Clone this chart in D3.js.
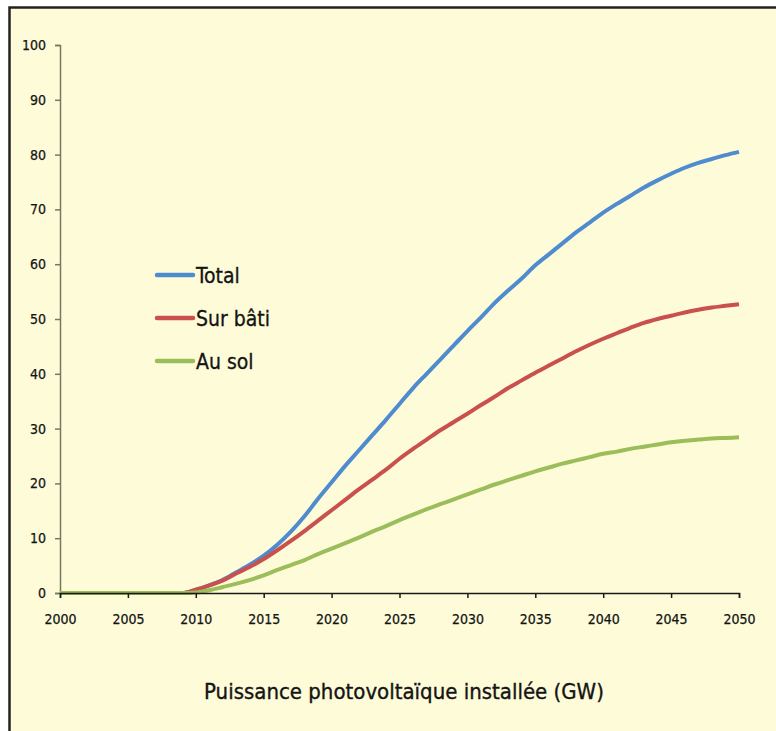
<!DOCTYPE html>
<html>
<head>
<meta charset="utf-8">
<script src="https://cdn.jsdelivr.net/npm/d3@7/dist/d3.min.js"></script>
<style>
  html, body { margin: 0; padding: 0; background: #fff; }
  svg { display: block; }
  text { font-family: "DejaVu Sans Condensed", "DejaVu Sans", sans-serif; fill: #141414; }
</style>
</head>
<body>
<svg id="chart" width="776" height="731"></svg>
<script>
// Installed photovoltaic capacity (GW), yearly, 2000–2050
const years = d3.range(2000, 2051);
const totalValues = [
  0, 0, 0, 0, 0, 0, 0, 0, 0, 0,
  0.6, 1.4, 2.4, 3.8, 5.2, 6.8, 8.8, 11.2, 14.0, 17.2,
  20.2, 23.2, 26.0, 28.8, 31.6, 34.5, 37.4, 40.0, 42.6, 45.2,
  47.8, 50.3, 52.9, 55.2, 57.4, 59.8, 61.8, 63.8, 65.8, 67.6,
  69.4, 71.0, 72.5, 74.0, 75.3, 76.5, 77.6, 78.5, 79.2, 79.9,
  80.5
];
const batiValues = [
  0, 0, 0, 0, 0, 0, 0, 0, 0, 0,
  0.6, 1.4, 2.3, 3.6, 4.8, 6.2, 7.8, 9.5, 11.3, 13.2,
  15.1, 17.0, 18.9, 20.7, 22.5, 24.5, 26.3, 28.0, 29.7, 31.2,
  32.7, 34.3, 35.8, 37.4, 38.8, 40.2, 41.5, 42.8, 44.1, 45.3,
  46.4, 47.4, 48.4, 49.3, 50.0, 50.6, 51.2, 51.7, 52.1, 52.4,
  52.7
];
const solValues = [
  0, 0, 0, 0, 0, 0, 0, 0, 0, 0,
  0.1, 0.5, 1.1, 1.7, 2.4, 3.2, 4.2, 5.1, 6.0, 7.1,
  8.1, 9.1, 10.1, 11.2, 12.2, 13.3, 14.3, 15.3, 16.2, 17.1,
  18.0, 18.9, 19.8, 20.6, 21.4, 22.2, 22.9, 23.6, 24.2, 24.8,
  25.4, 25.8, 26.3, 26.7, 27.1, 27.5, 27.8, 28.0, 28.2, 28.3,
  28.4
];
const seriesNames = ["Total", "Sur bâti", "Au sol"];
const seriesColors = ["#4F8BCF", "#C9504D", "#9BBD5A"];
const xTicks = d3.range(2000, 2051, 5);
const yTicks = d3.range(0, 101, 10);
const xTitle = "Puissance photovoltaïque installée (GW)";

const series = [totalValues, batiValues, solValues].map((vals, i) => ({
  name: seriesNames[i],
  color: seriesColors[i],
  points: years.map((y, j) => ({ year: y, value: vals[j] }))
}));

const svg = d3.select("#chart");

// panel background and frame
svg.append("rect").attr("x", 0).attr("y", 0).attr("width", 776).attr("height", 731).attr("fill", "#ffffff");
svg.append("rect")
  .attr("x", 9.5).attr("y", 7.5).attr("width", 800).attr("height", 800)
  .attr("fill", "#FEFCD8").attr("stroke", "#222").attr("stroke-width", 2.5);

const x = d3.scaleLinear().domain([2000, 2050]).range([60, 739]);
const y = d3.scaleLinear().domain([0, 100]).range([593, 45]);

// y axis
const yAxis = svg.append("g").attr("transform", `translate(${x(2000)},0)`)
  .call(d3.axisLeft(y).tickValues(yTicks).tickSize(5).tickPadding(9));
yAxis.select(".domain").attr("stroke", "#77775f").attr("stroke-width", 1.5);
yAxis.selectAll(".tick line").attr("stroke", "#77775f").attr("stroke-width", 1.5);
yAxis.selectAll("text").style("font-size", "14px").attr("fill", "#141414")
  .attr("stroke", "#141414").attr("stroke-width", 0.25);

// series lines
const line = d3.line().x(d => x(d.year)).y(d => y(d.value)).curve(d3.curveMonotoneX);
svg.append("g").selectAll("path").data(series).join("path")
  .attr("d", d => line(d.points))
  .attr("fill", "none")
  .attr("stroke", d => d.color)
  .attr("stroke-width", 4)
  .attr("stroke-linejoin", "round");

// x axis
const xAxis = svg.append("g").attr("transform", `translate(0,${y(0)})`)
  .call(d3.axisBottom(x).tickValues(xTicks).tickFormat(d3.format("d")).tickSize(5).tickPadding(16));
xAxis.select(".domain").attr("stroke", "#1a1a1a").attr("stroke-width", 1.5);
xAxis.selectAll(".tick line").attr("stroke", "#1a1a1a").attr("stroke-width", 1.5);
xAxis.selectAll("text").style("font-size", "14px").attr("fill", "#141414")
  .attr("stroke", "#141414").attr("stroke-width", 0.25);

// legend
const legend = svg.append("g").selectAll("g").data(series).join("g")
  .attr("transform", (d, i) => `translate(157,${275 + i * 43})`);
legend.append("line").attr("x1", 0).attr("x2", 36).attr("y1", 0).attr("y2", 0)
  .attr("stroke", d => d.color).attr("stroke-width", 4.5).attr("stroke-linecap", "round");
legend.append("text").attr("x", 39).attr("y", 8).text(d => d.name)
  .style("font-size", "21px").attr("stroke", "#141414").attr("stroke-width", 0.3);

// axis title
svg.append("text").attr("x", 404).attr("y", 699).attr("text-anchor", "middle")
  .style("font-size", "22px").attr("stroke", "#141414").attr("stroke-width", 0.35)
  .text(xTitle);
</script>
</body>
</html>
